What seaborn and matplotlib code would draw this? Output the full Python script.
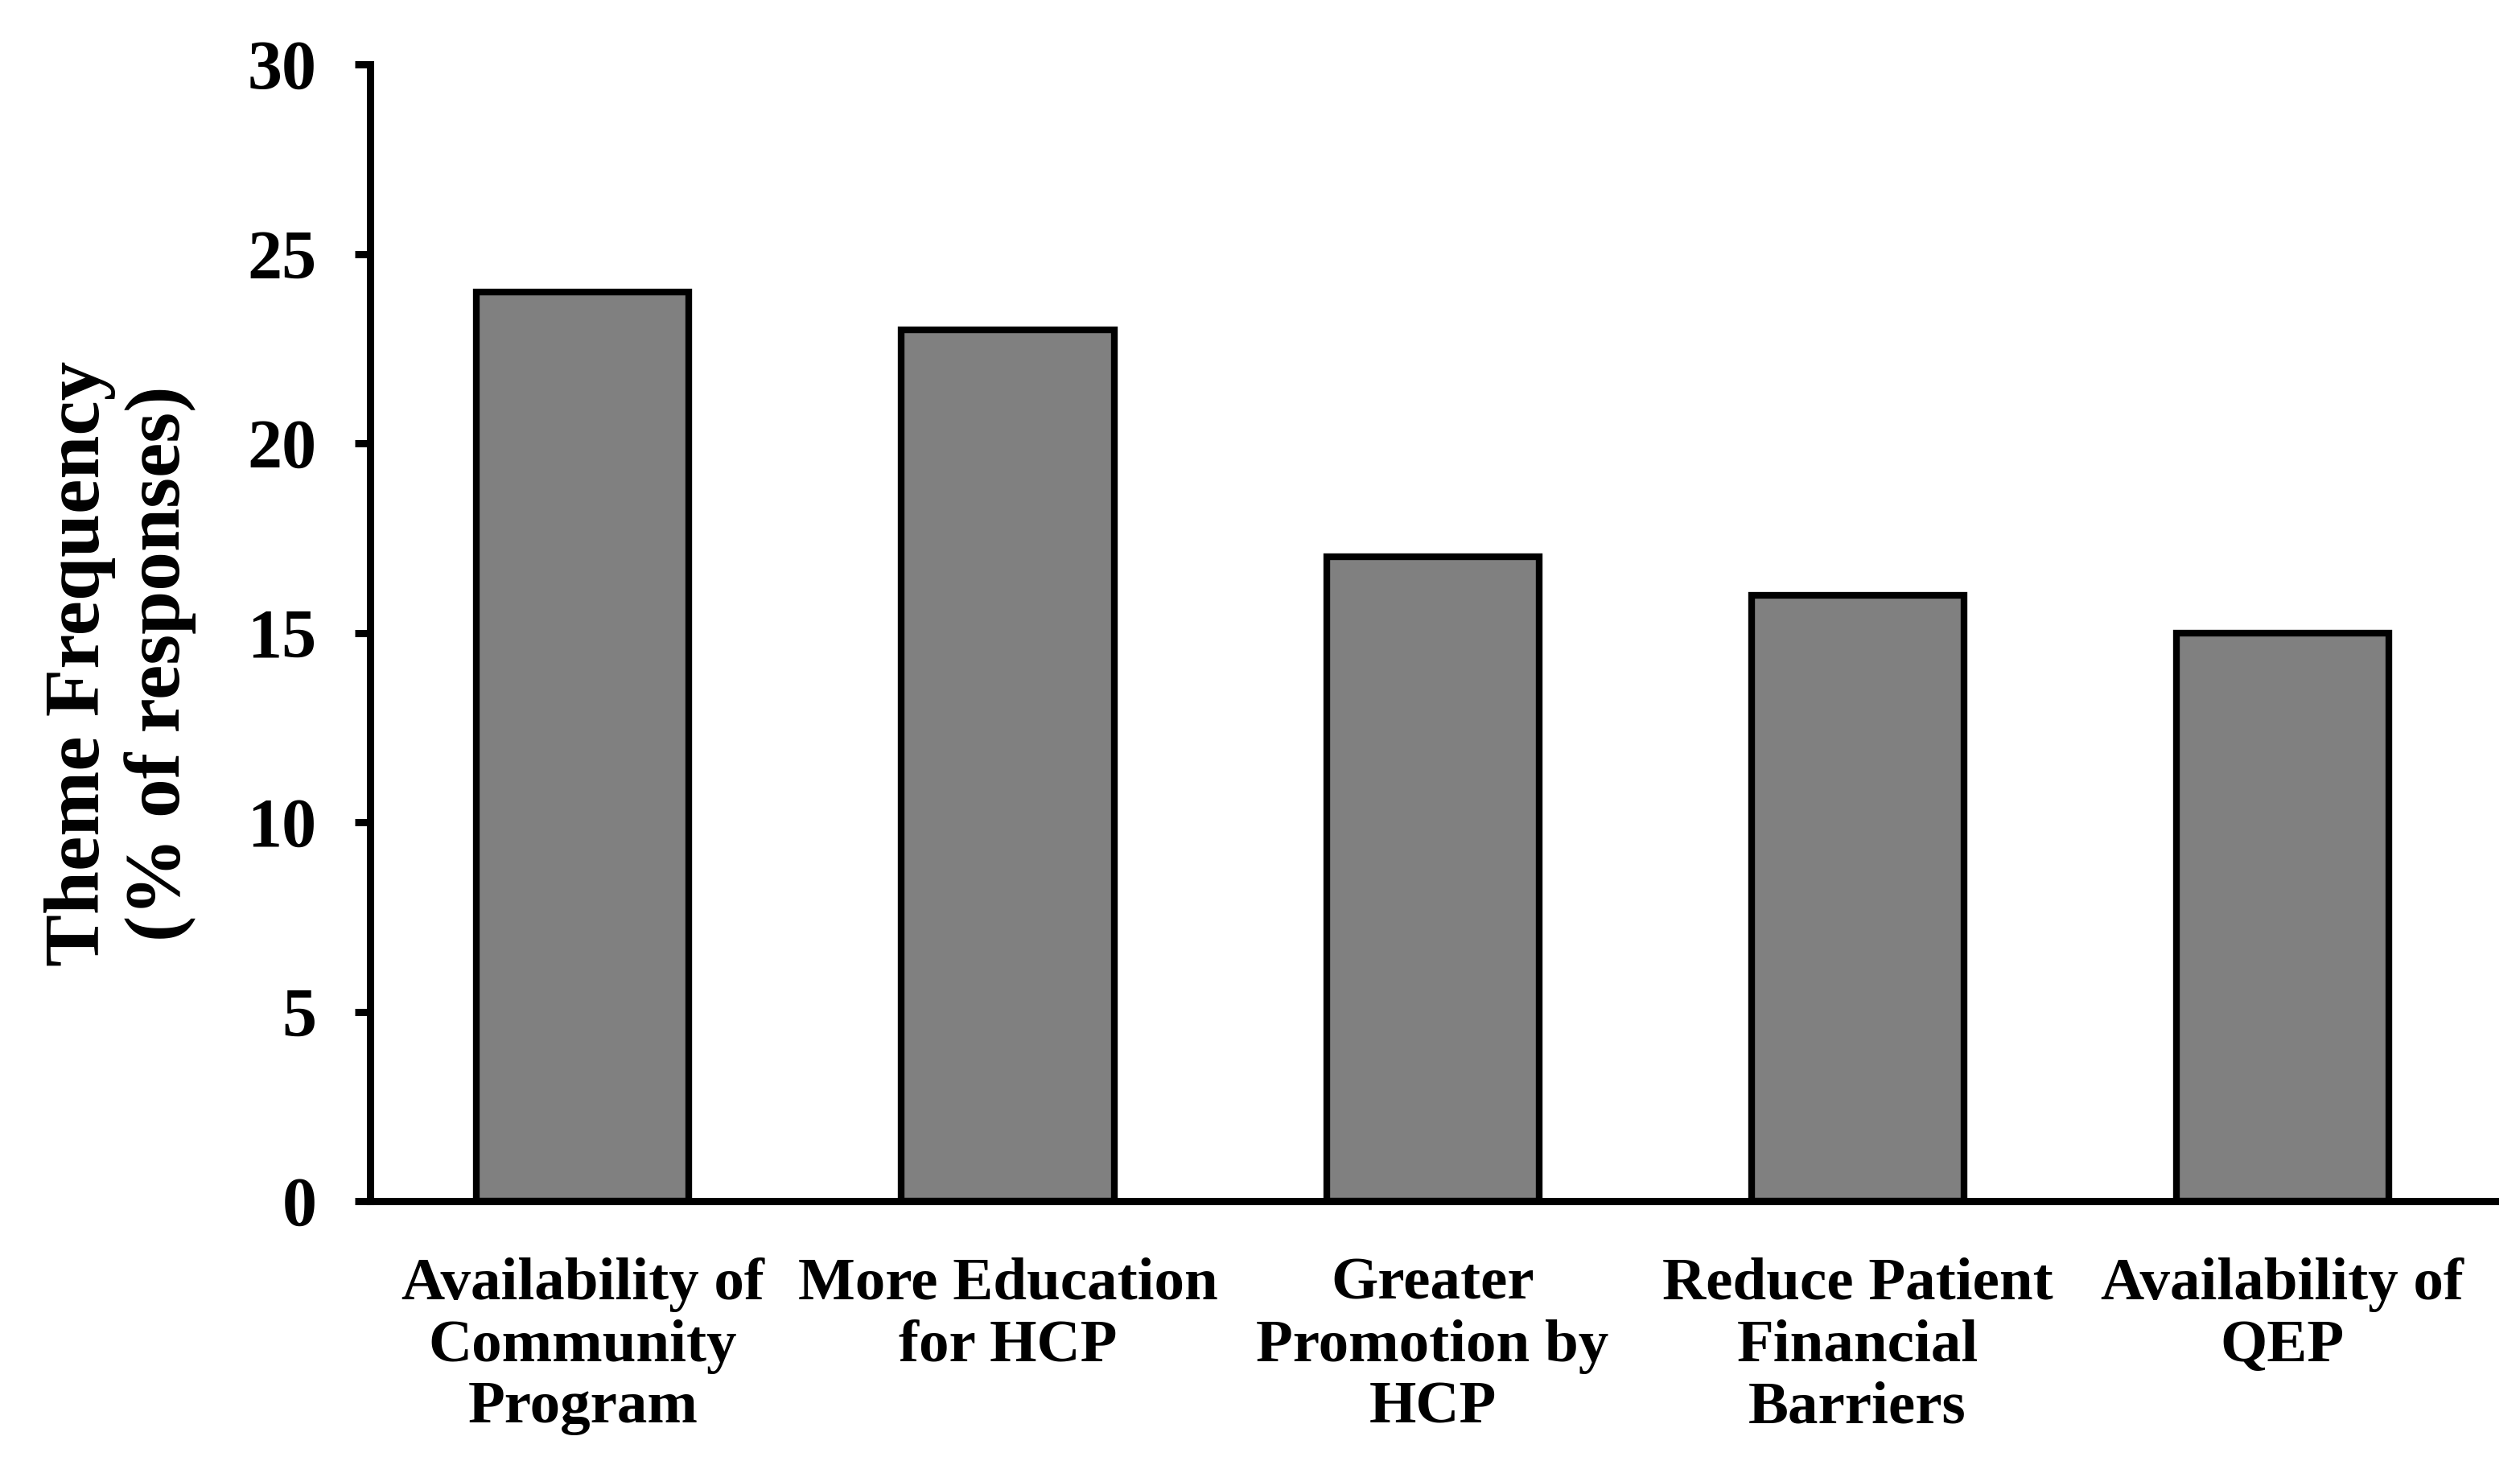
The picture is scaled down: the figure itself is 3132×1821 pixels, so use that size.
import matplotlib.pyplot as plt
import seaborn as sns
import pandas as pd

# Theme frequencies
themes = [
    "Availability of\nCommunity\nProgram",
    "More Education\nfor HCP",
    "Greater\nPromotion by\nHCP",
    "Reduce Patient\nFinancial\nBarriers",
    "Availability of\nQEP",
]
frequency = [24, 23, 17, 16, 15]
y_ticks = [0, 5, 10, 15, 20, 25, 30]

df = pd.DataFrame({"theme": themes, "freq": frequency})

sns.set_theme(style="white")
plt.rcParams['font.family'] = ['Liberation Serif', 'DejaVu Serif']
plt.rcParams['font.weight'] = 'bold'
plt.rcParams['text.color'] = 'black'
plt.rcParams['axes.labelcolor'] = 'black'
plt.rcParams['xtick.color'] = 'black'
plt.rcParams['ytick.color'] = 'black'

fig = plt.figure(figsize=(31.32, 18.21), dpi=100)
ax = fig.add_axes([0.147, 0.18, 0.843, 0.776])

sns.barplot(data=df, x="theme", y="freq", color="#808080", saturation=1,
            edgecolor="black", linewidth=6, width=0.5, ax=ax)

ax.set_ylim(0, 30)
ax.set_xlim(-0.5, 4.5)
ax.set_yticks(y_ticks)
ax.set_yticklabels([str(t) for t in y_ticks], fontsize=62, fontweight='bold')
ax.tick_params(axis='y', direction='out', length=14, width=6.5, pad=34, left=True)
ax.tick_params(axis='x', length=0, pad=50)
for lbl in ax.get_xticklabels():
    lbl.set_fontsize(54)
    lbl.set_fontweight('bold')
    lbl.set_linespacing(1.17)
    lbl.set_va('top')

ax.set_xlabel("")
ax.set_ylabel("Theme Frequency\n(% of responses)", fontsize=70, fontweight='bold',
              linespacing=1.15, labelpad=46)
ax.yaxis.label.set_y(0.473)

sns.despine(ax=ax, top=True, right=True)
ax.spines['left'].set_linewidth(6.5)
ax.spines['bottom'].set_linewidth(6.5)
ax.spines['left'].set_color('black')
ax.spines['bottom'].set_color('black')

fig.savefig("out.png", dpi=100, facecolor="white")
